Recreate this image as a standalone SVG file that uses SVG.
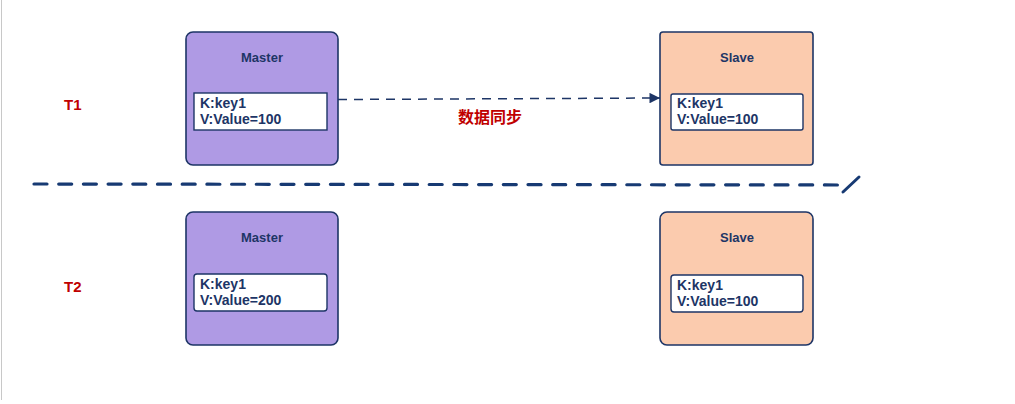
<svg xmlns="http://www.w3.org/2000/svg" width="1015" height="404" viewBox="0 0 1015 404">
<style>
.box{stroke:#1d3566;stroke-width:1.6}
.m{fill:#af9ae4}
.s{fill:#fbcbae}
.inner{fill:#fff;stroke:#1d3566;stroke-width:1.4}
.title{font-family:"Liberation Sans",Arial,sans-serif;font-weight:bold;font-size:13px;fill:#1d3566;text-anchor:middle}
.kv{font-family:"Liberation Sans",Arial,sans-serif;font-weight:bold;font-size:14px;fill:#1d3566}
.t{font-family:"Liberation Sans",Arial,sans-serif;font-weight:bold;font-size:15px;fill:#c00000}
</style>
<defs>
<marker id="ah" viewBox="0 0 10 10" refX="10" refY="5" markerWidth="8" markerHeight="7" orient="auto" markerUnits="strokeWidth">
<path d="M0,0 L10,5 L0,10 z" fill="#1d3566"/>
</marker>
</defs>
<rect width="1015" height="404" fill="#fff"/>
<line x1="1.5" y1="0" x2="1.5" y2="400" stroke="#c8c8c8" stroke-width="1"/>
<text class="t" x="64" y="110">T1</text>
<text class="t" x="64" y="292">T2</text>
<g id="master1">
<rect class="box m" x="186" y="32" width="152" height="133" rx="7"/>
<text class="title" x="262" y="62">Master</text>
<rect class="inner" x="194" y="93" width="133" height="37"/>
<text class="kv" x="200" y="108">K:key1</text>
<text class="kv" x="200" y="124">V:Value=100</text>
</g>
<g id="slave1">
<rect class="box s" x="660" y="32" width="153" height="133" rx="3"/>
<text class="title" x="737" y="62">Slave</text>
<rect class="inner" x="671" y="94" width="132" height="36" rx="2"/>
<text class="kv" x="677" y="108">K:key1</text>
<text class="kv" x="677" y="124">V:Value=100</text>
</g>
<g id="master2">
<rect class="box m" x="186" y="212" width="152" height="133" rx="7"/>
<text class="title" x="262" y="242">Master</text>
<rect class="inner" x="194" y="274" width="133" height="37" rx="3"/>
<text class="kv" x="200" y="289">K:key1</text>
<text class="kv" x="200" y="305">V:Value=200</text>
</g>
<g id="slave2">
<rect class="box s" x="660" y="212" width="153" height="133" rx="7"/>
<text class="title" x="737" y="242">Slave</text>
<rect class="inner" x="671" y="275" width="132" height="37" rx="3"/>
<text class="kv" x="677" y="290">K:key1</text>
<text class="kv" x="677" y="306">V:Value=100</text>
</g>
<g id="connectors">
<line x1="338" y1="99.5" x2="660" y2="98" stroke="#1d3566" stroke-width="1.5" stroke-dasharray="9,7" marker-end="url(#ah)"/>
<text x="490" y="123" font-family="'Noto Sans CJK SC',sans-serif" font-weight="bold" font-size="16" fill="#c00000" text-anchor="middle">数据同步</text>
</g>
<g id="divider">
<line x1="34" y1="184" x2="845" y2="185" stroke="#173a73" stroke-width="3.2" stroke-linecap="round" stroke-dasharray="13,11.7"/>
<line x1="843" y1="192" x2="859" y2="177" stroke="#173a73" stroke-width="3" stroke-linecap="round"/>
</g>
</svg>
